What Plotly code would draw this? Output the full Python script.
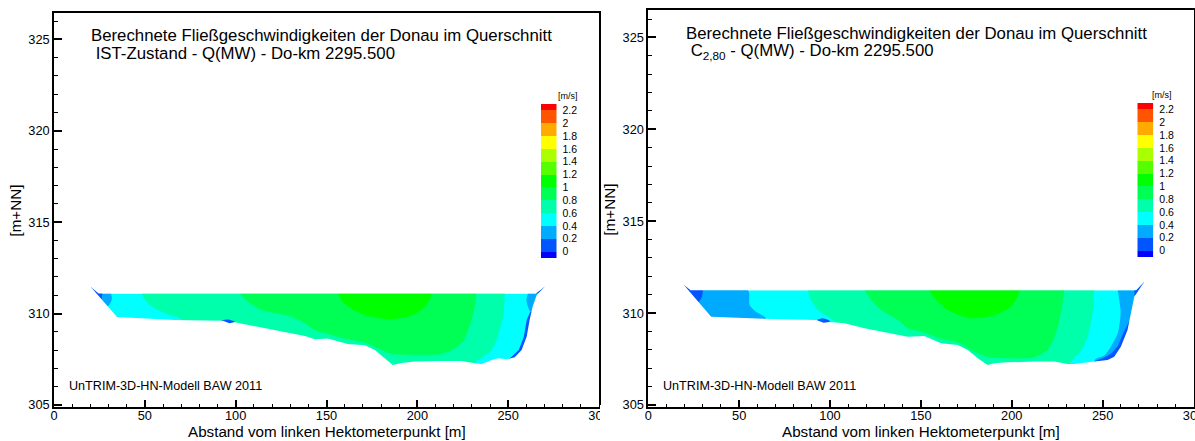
import plotly.graph_objects as go

W, H = 1195, 441

# ---------------- legend levels / colours ----------------
level_edges = [-0.1, 0.0, 0.2, 0.4, 0.6, 0.8, 1.0, 1.2, 1.4, 1.6, 1.8, 2.0, 2.2, 2.3]
level_ticks = [0.0, 0.2, 0.4, 0.6, 0.8, 1.0, 1.2, 1.4, 1.6, 1.8, 2.0, 2.2]
level_labels = ["0", "0.2", "0.4", "0.6", "0.8", "1", "1.2", "1.4", "1.6", "1.8", "2", "2.2"]
band_colors = ["#0000ff", "#0055ff", "#00aaff", "#00ffff", "#00ffaa", "#00ff55",
               "#00ff00", "#55ff00", "#aaff00", "#ffff00", "#ffaa00", "#ff5500", "#ff0000"]

# ---------------- IST-Zustand (left panel) ----------------
ist_surface = 311.10
ist_sliver_x = [24.6, 265.3]
ist_bed_x = [20.4, 34.7, 66.6, 93.0, 96.5, 99.5, 112.2, 127.1, 138.1, 143.6, 150.7, 161.7, 171.1,
             176.6, 182.1, 186.5, 191.4, 198.6, 213.4, 224.4, 231.6, 235.4, 241.0, 244.2,
             249.7, 253.6, 257.4, 260.2, 261.8, 263.5, 265.7, 270.1]
ist_bed_y = [311.44, 309.81, 309.65, 309.61, 309.47, 309.52, 309.28, 309.01, 308.77, 308.59, 308.63,
             308.34, 308.27, 308.01, 307.55, 307.19, 307.30, 307.37, 307.41, 307.41, 307.28,
             307.24, 307.46, 307.55, 307.50, 307.61, 308.01, 308.74, 309.65, 310.38, 311.02, 311.47]
ist_lblue_l_x = [15.0, 31.4, 31.9, 31.4, 30.0, 15.0]
ist_lblue_l_y = [311.10, 311.10, 310.85, 310.63, 310.41, 310.41]
ist_blue_l_x = [12.0, 26.6, 26.6, 26.2, 12.0]
ist_blue_l_y = [311.8, 311.8, 311.10, 310.80, 310.80]
ist_lblue_r_x = [260.9, 260.0, 260.9, 262.8, 285.0, 285.0]
ist_lblue_r_y = [311.10, 310.74, 310.38, 310.02, 310.02, 311.10]
ist_blue_r_x = [265.3, 265.3, 285.0, 285.0]
ist_blue_r_y = [311.8, 311.10, 311.10, 311.8]
ist_strip_x = [262.1, 260.2, 258.6, 255.8, 251.9, 250.5, 250.5, 285.0, 285.0]
ist_strip_y = [310.09, 309.65, 308.72, 308.01, 307.63, 307.52, 306.0, 306.0, 310.09]
ist_blob_x = [92.0, 95.5, 99.5, 96.5]
ist_blob_y = [309.62, 309.68, 309.56, 309.40]
ist_c06_x = [48.2, 50.1, 53.7, 59.2, 65.6, 70.5, 70.5, 231.6, 231.6, 235.4, 240.9, 244.2, 247.5, 248.1]
ist_c06_y = [311.10, 310.74, 310.38, 310.10, 309.87, 309.66, 306.0, 306.0, 307.30, 307.57, 308.01,
             308.72, 310.03, 311.10]
ist_c08_x = [102.3, 106.7, 114.4, 127.1, 135.3, 143.6, 152.9, 161.9, 171.1, 180.3, 185.8, 198.6,
             213.3, 220.6, 226.1, 229.8, 231.6, 232.5]
ist_c08_y = [311.10, 310.65, 310.20, 309.92, 309.62, 309.10, 308.83, 308.59, 308.41, 308.01, 307.79,
             307.74, 307.79, 308.10, 308.65, 309.65, 310.38, 311.10]
ist_c10_x = [156.4, 158.4, 161.9, 171.1, 183.9, 194.9, 202.3, 206.8, 207.8]
ist_c10_y = [311.10, 310.70, 310.38, 309.92, 309.69, 309.83, 310.20, 310.75, 311.10]

# ---------------- C2,80 (right panel) ----------------
c280_surface = 311.24
c280_sliver_x = [23.3, 268.5]
c280_bed_x = [19.6, 34.6, 60.0, 92.4, 96.5, 99.8, 108.0, 119.0, 133.6, 142.8, 151.9, 161.1, 170.3,
              175.8, 181.3, 186.7, 190.4, 197.7, 212.4, 223.4, 230.7, 234.4, 245.4, 252.7,
              256.4, 260.0, 263.7, 265.5, 267.4, 272.9]
c280_bed_y = [311.53, 309.80, 309.70, 309.62, 309.47, 309.52, 309.45, 309.17, 308.90, 308.72, 308.75,
              308.36, 308.26, 307.99, 307.54, 307.18, 307.27, 307.32, 307.36, 307.36, 307.23,
              307.23, 307.36, 307.45, 307.63, 308.17, 309.08, 309.99, 310.89, 311.71]
c280_lblue_l_x = [10.0, 54.8, 55.7, 59.2, 64.7, 64.7, 10.0]
c280_lblue_l_y = [311.24, 311.24, 310.44, 310.08, 309.71, 306.0, 306.0]
c280_blue_l_x = [10.0, 30.1, 30.1, 29.5, 27.9, 10.0]
c280_blue_l_y = [311.8, 311.8, 311.24, 310.88, 310.60, 310.60]
c280_lblue_r_x = [258.3, 259.9, 258.3, 254.5, 251.2, 245.7, 245.7, 285.0, 285.0]
c280_lblue_r_y = [311.24, 310.01, 308.90, 308.17, 307.72, 307.45, 306.0, 306.0, 311.24]
c280_blue_r_x = [267.2, 267.2, 267.6, 285.0, 285.0]
c280_blue_r_y = [311.8, 311.24, 310.95, 310.95, 311.8]
c280_strip_x = [264.6, 261.5, 258.3, 254.8, 250.0, 245.4, 245.4, 285.0, 285.0]
c280_strip_y = [309.55, 308.95, 308.20, 307.80, 307.55, 307.38, 306.0, 306.0, 309.55]
c280_blob_x = [92.6, 96.0, 100.0, 96.5]
c280_blob_y = [309.63, 309.72, 309.56, 309.40]
c280_c06_x = [87.7, 89.4, 93.3, 98.7, 102.6, 102.6, 232.4, 232.4, 237.9, 241.7, 244.5, 245.4]
c280_c06_y = [311.24, 310.71, 310.17, 309.80, 309.53, 306.0, 306.0, 307.36, 307.90, 308.72, 310.01, 311.24]
c280_c08_x = [119.0, 122.6, 128.1, 137.3, 142.8, 151.9, 161.1, 170.3, 179.4, 186.7, 197.7, 212.4,
              219.7, 224.3, 227.0, 228.9]
c280_c08_y = [311.24, 310.71, 310.17, 309.62, 309.17, 308.95, 308.60, 308.40, 307.90, 307.63, 307.54,
              307.60, 307.99, 308.90, 309.99, 311.24]
c280_c10_x = [154.7, 157.4, 164.8, 177.4, 190.6, 199.4, 203.2, 204.2]
c280_c10_y = [311.24, 310.82, 310.17, 309.72, 309.90, 310.35, 310.89, 311.24]

FONT = "Liberation Sans, Arial, sans-serif"
fig = go.Figure()


def poly(xs, ys, color, xa, ya, smooth=False):
    line = dict(width=0, color=color)
    if smooth:
        line.update(shape="spline", smoothing=0.7)
    fig.add_trace(go.Scatter(x=xs, y=ys, mode="lines", fill="toself", fillcolor=color,
                             line=line, hoverinfo="skip", showlegend=False,
                             xaxis=xa, yaxis=ya))


def panel(xa, ya, bed_x, bed_y, surf, sliver, layers):
    # base band (0.4-0.6) over the whole wetted section
    poly([bed_x[0], sliver[0], sliver[1], bed_x[-1], bed_x[-1], bed_x[0]],
         [bed_y[0], surf, surf, bed_y[-1], 306.0, 306.0], band_colors[3], xa, ya)
    for xs, ys, ci, sm in layers:
        poly(xs, ys, band_colors[ci], xa, ya, sm)
    # white masks outside the wetted section (overlapping, so no seams)
    poly([-10, -10, bed_x[0], sliver[0], sliver[1], bed_x[-1], 310, 310],
         [330, 300, bed_y[0], surf, surf, bed_y[-1], 300, 330], "white", xa, ya)
    poly([-10] + bed_x + [310, 310, -10],
         [bed_y[0]] + bed_y + [bed_y[-1], 300, 300], "white", xa, ya)


panel("x", "y", ist_bed_x, ist_bed_y, ist_surface, ist_sliver_x, [
    (ist_lblue_l_x, ist_lblue_l_y, 2, False),
    (ist_blue_l_x, ist_blue_l_y, 1, False),
    (ist_lblue_r_x, ist_lblue_r_y, 2, True),
    (ist_strip_x, ist_strip_y, 1, False),
    (ist_blue_r_x, ist_blue_r_y, 1, False),
    (ist_c06_x, ist_c06_y, 4, True),
    (ist_c08_x, ist_c08_y, 5, True),
    (ist_c10_x, ist_c10_y, 6, True),
    (ist_blob_x, ist_blob_y, 1, True),
])
panel("x2", "y2", c280_bed_x, c280_bed_y, c280_surface, c280_sliver_x, [
    (c280_lblue_l_x, c280_lblue_l_y, 2, True),
    (c280_blue_l_x, c280_blue_l_y, 1, False),
    (c280_lblue_r_x, c280_lblue_r_y, 2, True),
    (c280_strip_x, c280_strip_y, 1, False),
    (c280_blue_r_x, c280_blue_r_y, 1, False),
    (c280_c06_x, c280_c06_y, 4, True),
    (c280_c08_x, c280_c08_y, 5, True),
    (c280_c10_x, c280_c10_y, 6, True),
    (c280_blob_x, c280_blob_y, 1, True),
])

# colour legends as heatmaps
n = len(band_colors)
cscale = []
for i, c in enumerate(band_colors):
    cscale += [[i / n, c], [(i + 1) / n, c]]
for xa, ya in (("x3", "y3"), ("x4", "y4")):
    fig.add_trace(go.Heatmap(z=[[i] for i in range(n)], x=[0, 1], y=level_edges,
                             zmin=-0.5, zmax=n - 0.5, colorscale=cscale, showscale=False,
                             hoverinfo="skip", xaxis=xa, yaxis=ya))


def px_x(p):
    return p / W


def px_y(p):
    return (H - p) / H


def main_x(dom):
    return dict(domain=dom, range=[0, 300], tick0=0, dtick=50, ticks="inside", ticklen=8,
                tickwidth=1.5, tickcolor="black", showline=True, linecolor="black",
                linewidth=1.6, mirror=True, showgrid=False, zeroline=False,
                ticklabelstandoff=-4, ticklabeloverflow="allow",
                tickfont=dict(family=FONT, size=12.8, color="black"),
                minor=dict(dtick=10, tick0=0, ticks="inside", ticklen=4, tickwidth=1,
                           tickcolor="black"))


def main_y(dom, rng, anchor):
    return dict(domain=dom, range=rng, tick0=305, dtick=5, ticks="inside", ticklen=8,
                tickwidth=1.5, tickcolor="black", showline=True, linecolor="black",
                linewidth=1.6, mirror=True, showgrid=False, zeroline=False, anchor=anchor,
                tickfont=dict(family=FONT, size=12.8, color="black"),
                minor=dict(dtick=1, tick0=305, ticks="inside", ticklen=4, tickwidth=1,
                           tickcolor="black"))


def cb_y(dom, anchor):
    return dict(domain=dom, range=[-0.1, 2.3], anchor=anchor, side="right",
                tickvals=level_ticks, ticktext=level_labels, ticks="", showline=False,
                showgrid=False, zeroline=False, ticklabelstandoff=5,
                tickfont=dict(family=FONT, size=10.5, color="black"))


def cb_x(dom, anchor):
    return dict(domain=dom, range=[0, 1], anchor=anchor, visible=False)


ann = []


def text(t, x, y, size, xanchor="left", angle=0):
    ann.append(dict(text=t, x=px_x(x), y=px_y(y), xref="paper", yref="paper",
                    xanchor=xanchor, yanchor="middle", showarrow=False, textangle=angle,
                    font=dict(family=FONT, size=size, color="black")))


# left panel texts
text("Berechnete Fließgeschwindigkeiten der Donau im Querschnitt", 89, 35.5, 16.8)
text(" IST-Zustand - Q(MW) - Do-km 2295.500", 89, 53.5, 16.8)
text("UnTRIM-3D-HN-Modell BAW 2011", 67, 386, 12.6)
text("Abstand vom linken Hektometerpunkt [m]", 326.5, 431.5, 15.2, "center")
text("[m+NN]", 14.5, 211, 15.2, "center", -90)
text("[m/s]", 568, 95.5, 9, "center")
# right panel texts
text("Berechnete Fließgeschwindigkeiten der Donau im Querschnitt", 683.5, 33.5, 16.8)
text(" C<sub>2,80</sub> - Q(MW) - Do-km 2295.500", 683.5, 51.5, 16.8)
text("UnTRIM-3D-HN-Modell BAW 2011", 661, 386, 12.6)
text("Abstand vom linken Hektometerpunkt [m]", 921, 431.5, 15.2, "center")
text("[m+NN]", 608.5, 210, 15.2, "center", -90)
text("[m/s]", 1162, 94.5, 9, "center")

fig.update_layout(
    width=W, height=H, autosize=False,
    margin=dict(l=0, r=0, t=0, b=0, autoexpand=False),
    paper_bgcolor="white", plot_bgcolor="rgba(0,0,0,0)",
    showlegend=False,
    xaxis=main_x([px_x(54), px_x(599)]) | dict(anchor="y"),
    yaxis=main_y([px_y(407.3), px_y(12.7)], [304.87, 326.46], "x"),
    xaxis2=main_x([px_x(648.3), px_x(1193.5)]) | dict(anchor="y2"),
    yaxis2=main_y([px_y(407.3), px_y(10)], [304.875, 326.49], "x2"),
    xaxis3=cb_x([px_x(541), px_x(556.5)], "y3"),
    yaxis3=cb_y([px_y(258), px_y(104)], "x3"),
    xaxis4=cb_x([px_x(1137.3), px_x(1153.3)], "y4"),
    yaxis4=cb_y([px_y(257), px_y(103)], "x4"),
    annotations=ann,
    shapes=[dict(type="rect", xref="paper", yref="paper", x0=px_x(600), x1=px_x(613),
                 y0=px_y(428), y1=px_y(405), fillcolor="white", line=dict(width=0),
                 layer="above")],
)

fig.write_html("out.html", config={"displayModeBar": False},
               post_script="document.body.style.margin='0';document.body.style.overflow='hidden';")
